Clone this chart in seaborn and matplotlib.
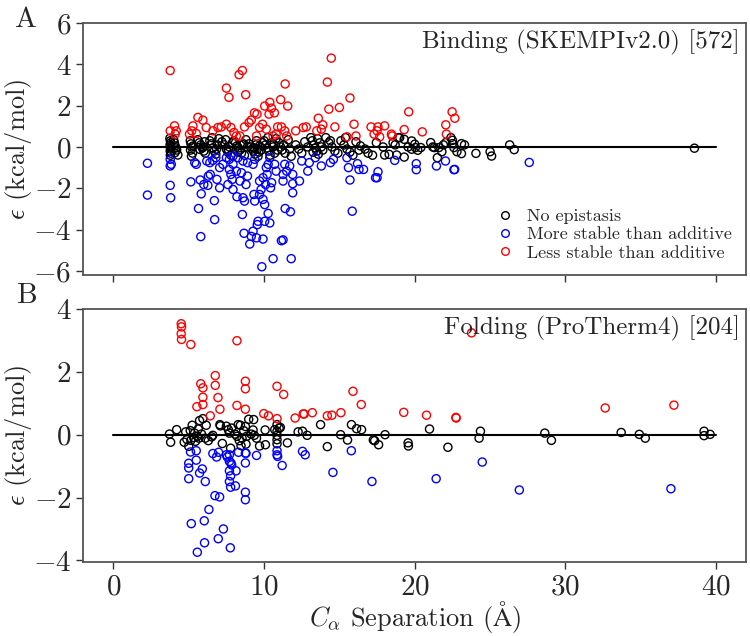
import numpy as np
import pandas as pd
import matplotlib
matplotlib.use("Agg")
import matplotlib.pyplot as plt
import seaborn as sns
from matplotlib.lines import Line2D

# ---- Binding (SKEMPIv2.0), panel A ----
a_none_x = [3.75, 3.78, 3.8, 3.76, 3.82, 3.79, 3.77, 3.81, 3.78, 4.0, 4.05, 4.1, 4.15, 4.2, 4.08, 4.28,
            5.1, 5.15, 5.2, 5.12, 5.25, 5.18, 5.3, 5.6, 5.7, 5.8, 5.9, 6.0, 6.1, 5.75, 5.95, 6.05,
            6.4, 6.5, 6.6, 6.7, 6.8, 6.9, 7.0, 6.55, 6.85,
            7.2, 7.35, 7.5, 7.6, 7.7, 7.8, 7.9, 7.45, 7.65,
            8.0, 8.1, 8.2, 8.3, 8.4, 8.5, 8.6, 8.7, 8.8, 8.9, 8.25, 8.65,
            9.0, 9.1, 9.2, 9.3, 9.4, 9.5, 9.6, 9.7, 9.8, 9.9, 9.35, 9.55, 9.45, 9.65,
            10.0, 10.1, 10.2, 10.3, 10.4, 10.5, 10.6, 10.7, 10.8, 10.9, 10.25, 10.65,
            11.0, 11.1, 11.2, 11.4, 11.6, 11.8, 11.3, 11.7,
            12.1, 12.3, 12.5, 12.7, 12.9,
            13.1, 13.2, 13.3, 13.4, 13.5, 13.6, 13.7, 13.8, 13.9, 13.25, 13.55,
            14.1, 14.3, 14.5, 14.7, 14.9, 14.4,
            15.1, 15.3, 15.5, 15.7, 15.9, 15.4,
            16.1, 16.4, 16.7, 16.9, 17.2, 16.3,
            17.45, 17.9, 18.0, 18.3, 18.56, 18.7, 18.8, 18.9, 19.0, 19.3, 19.3, 19.56, 19.8, 19.8,
            20.0, 20.04, 20.2, 20.4, 21.06, 21.2, 21.3, 21.5, 21.6, 21.8, 21.9, 22.06, 22.4, 22.5,
            22.5, 22.6, 22.8, 23.1, 23.1, 23.3, 24.06, 25.0, 25.1, 26.3, 26.6, 38.56]
a_none_y = [0.42, 0.3, 0.2, 0.1, 0.0, -0.1, -0.2, -0.3, -0.4, 0.35, 0.2, 0.05, -0.05, -0.15, -0.28, -0.39,
            0.3, 0.15, 0.0, -0.15, -0.3, -0.45, 0.05, 0.35, 0.2, 0.1, -0.05, -0.2, -0.3, -0.12, 0.0, 0.25,
            0.3, 0.15, -0.05, -0.2, -0.35, 0.1, 0.4, 0.45, -0.1,
            0.25, 0.1, -0.1, -0.25, 0.0, -0.4, 0.2, 0.35, -0.15,
            0.3, 0.2, 0.05, -0.05, -0.15, -0.3, 0.1, -0.4, 0.35, 0.0, -0.25, 0.15,
            0.15, 0.0, -0.1, -0.2, -0.35, 0.3, -0.45, 0.05, -0.15, 0.2, -0.05, -0.1, 0.1, -0.25,
            0.3, 0.1, -0.05, -0.2, -0.4, 0.2, 0.0, -0.3, 0.4, -0.15, 0.45, 0.12,
            0.2, 0.0, -0.15, -0.3, 0.35, -0.45, 0.1, -0.1,
            0.1, -0.1, -0.3, 0.25, 0.0,
            0.45, 0.3, 0.1, -0.05, -0.2, -0.35, 0.2, 0.0, -0.15, -0.25, 0.4,
            0.45, 0.2, 0.0, -0.2, -0.3, 0.3,
            0.3, 0.1, -0.1, -0.25, -0.4, 0.45,
            0.25, 0.05, -0.1, -0.3, -0.4, -0.15,
            0.21, 0.0, -0.39, -0.36, 0.21, 0.1, -0.39, 0.45, 0.45, 0.37, -0.49, 0.0, -0.11, 0.29,
            0.13, -0.03, -0.16, -0.03, 0.21, 0.0, -0.03, -0.52, -0.03, -0.23, 0.1, 0.21, 0.45, 0.32,
            0.16, -0.03, -0.23, 0.16, -0.32, 0.1, -0.31, -0.23, -0.44, 0.1, -0.13, -0.06]

a_more_x = [2.26, 2.26, 3.77, 3.8, 3.77, 3.84, 3.77, 5.14, 5.65, 5.8, 5.76, 5.83, 6.0, 6.3, 6.43, 6.27,
            6.7, 6.72, 6.87, 7.05, 5.4, 5.5, 6.2, 6.4, 6.6, 7.05, 7.27, 7.5, 7.7, 7.7, 7.8, 7.89,
            7.6, 7.94, 7.94, 8.16, 8.2, 8.4, 8.5, 8.56, 8.6, 8.67, 8.7, 8.8, 8.9, 9.05, 9.15, 9.27,
            9.33, 9.38, 9.5, 9.55, 9.6, 9.7, 9.93, 9.85, 10.04, 10.04, 9.93, 9.8, 9.7, 9.93, 10.1,
            10.2, 10.15, 10.27, 10.38, 10.27, 10.38, 10.43, 10.5, 10.6, 10.7, 10.8, 11.15, 11.26,
            11.4, 11.75, 11.8, 11.9, 11.9, 11.26, 11.26, 11.5, 11.37, 11.7, 11.9, 12.35, 12.5,
            12.9, 13.0, 13.4, 13.8, 14.4, 14.6, 15.5, 15.6, 15.7, 15.85, 16.2, 16.3, 16.6, 17.4,
            8.27, 8.6, 8.9, 9.27, 9.38, 7.94, 6.8,
            17.56, 17.5, 18.67, 20.1, 20.1, 21.44, 22.04, 22.6, 22.65, 27.6]
a_more_y = [-0.79, -2.33, -1.86, -2.46, -0.6, -0.84, -0.92, -1.69, -2.98, -4.34, -1.6, -2.27, -1.82, -1.41, -1.33, -1.86,
            -2.6, -3.52, -1.57, -1.98, -0.76, -0.84, -0.68, -0.76, -0.65, -1.0, -0.84, -0.52, -0.6, -1.09, -1.33, -1.57,
            -1.82, -2.06, -0.84, -1.17, -2.41, -1.65, -1.25, -3.27, -2.46, -4.18, -2.62, -1.82, -1.41, -4.7, -4.33, -4.08,
            -2.3, -2.62, -4.4, -3.76, -3.6, -2.3, -4.46, -5.8, -3.6, -2.79, -2.54, -2.06, -1.65, -1.49, -1.82,
            -1.33, -1.0, -0.84, -0.52, -3.22, -3.68, -1.98, -1.73, -5.41, -0.84, -1.17, -4.54, -4.5,
            -2.98, -3.14, -5.41, -2.22, -1.78, -1.65, -1.33, -1.17, -0.84, -0.92, -1.33, -1.65, -0.68,
            -1.17, -0.76, -0.52, -0.92, -0.76, -0.6, -0.52, -1.0, -1.6, -3.11, -0.81, -1.09, -1.09, -1.49,
            -0.52, -0.68, -0.76, -0.84, -0.6, -0.44, -0.52,
            -1.2, -1.49, -0.65, -0.81, -1.1, -0.92, -0.68, -1.1, -1.09, -0.75]

a_less_x = [3.77, 7.5, 7.67, 8.34, 8.56, 8.78, 11.4, 11.57, 11.1, 10.04, 10.38, 10.49, 10.69, 9.36, 9.53, 10.33,
            14.46, 14.2, 14.3, 15.0, 15.7, 13.6, 15.97, 17.1, 16.1, 14.7, 13.9, 13.8, 13.5, 12.8, 12.6, 12.1,
            5.28, 5.61, 5.94, 6.16, 6.6, 6.94, 7.16, 7.5, 7.8, 8.0, 8.16, 8.7, 9.0, 9.15, 9.7, 9.9, 10.15,
            10.9, 11.15, 11.37, 11.5, 3.77, 4.06, 4.17, 4.1, 5.2, 5.05, 5.5, 8.4, 10.6, 9.5, 10.8, 15.5,
            17.3, 17.56, 17.5, 18.0, 17.67, 18.45, 18.5, 19.3, 19.6, 20.5, 22.06, 22.1, 22.48, 22.66]
a_less_y = [3.7, 2.85, 2.4, 3.5, 3.7, 2.53, 3.05, 1.98, 2.29, 1.98, 2.16, 1.88, 1.65, 1.65, 1.59, 1.59,
            4.3, 3.14, 1.83, 1.91, 2.37, 1.39, 1.1, 0.97, 0.53, 0.97, 1.07, 0.86, 0.78, 0.97, 0.94, 0.78,
            1.02, 1.43, 1.3, 0.94, 0.78, 0.94, 0.97, 1.1, 0.94, 0.7, 0.53, 0.97, 1.18, 1.3, 0.94, 1.1, 0.86,
            0.97, 0.97, 0.78, 0.53, 0.78, 1.02, 0.78, 0.62, 0.78, 0.62, 0.65, 0.53, 0.53, 0.53, 0.62, 0.49,
            0.62, 0.97, 0.78, 1.02, 0.49, 0.62, 0.53, 0.84, 1.7, 0.73, 1.07, 0.62, 1.7, 1.39]

# ---- Folding (ProTherm4), panel B ----
b_none_x = [3.72, 3.8, 4.2, 4.7, 4.8, 4.88, 5.0, 5.1, 5.14, 5.23, 5.32, 5.39, 5.45, 5.57, 5.63, 5.68,
            5.72, 5.85, 5.94, 6.1, 6.16, 6.3, 6.52, 6.6, 7.07, 7.1, 7.23, 7.5, 7.63, 7.7, 7.78, 7.85,
            8.07, 8.2, 8.28, 8.36, 8.43, 8.47, 8.54, 8.65, 8.76, 8.8, 8.85, 8.98, 9.14, 9.27, 9.31,
            9.35, 9.5, 9.7, 10.09, 10.07, 10.71, 10.86, 10.86, 10.86, 10.86, 10.86, 11.0, 11.08,
            11.55, 12.26, 12.55, 12.86, 13.75, 14.2, 15.08, 15.54, 15.8, 16.14, 16.47, 17.25,
            17.34, 17.6, 18.03, 19.56, 19.58, 20.98, 22.2, 24.27, 24.36, 28.63, 29.07, 33.7,
            34.9, 35.3, 39.2, 39.2, 39.6]
b_none_y = [0.02, -0.24, 0.16, -0.24, 0.09, -0.15, -0.37, 0.13, -0.18, 0.3, -0.09, 0.05, -0.21, -0.05, 0.18, -0.11,
            0.45, 0.02, 0.51, -0.11, 0.3, -0.19, -0.07, -0.02, 0.32, 0.28, -0.28, 0.27, 0.16, 0.05, -0.43, 0.21,
            0.02, -0.05, 0.32, -0.19, 0.3, -0.35, -0.11, 0.13, 0.26, -0.3, -0.05, 0.49, 0.02, 0.15, 0.48,
            -0.02, -0.11, -0.36, -0.32, 0.15, 0.16, 0.32, 0.11, -0.02, -0.16, -0.29, 0.21, 0.23,
            -0.26, 0.09, 0.11, -0.02, 0.32, -0.38, 0.0, -0.17, 0.32, 0.19, 0.16, -0.17,
            -0.19, -0.32, 0.0, -0.26, -0.36, 0.18, -0.4, -0.11, 0.11, 0.05, -0.18, 0.07,
            0.01, -0.11, 0.11, -0.03, 0.01]

b_more_x = [5.12, 5.5, 5.0, 5.0, 5.5, 5.0, 5.9, 5.72, 6.1, 5.17, 6.03, 6.34, 6.74, 7.05, 5.57, 6.05,
            6.96, 7.3, 7.76, 6.6, 6.85, 6.98, 7.5, 7.56, 7.7, 7.7, 7.8, 7.85, 7.7, 7.78, 7.7, 7.78,
            8.14, 8.1, 8.3, 8.76, 8.8, 8.76, 8.76, 8.76, 9.5, 10.86, 10.86, 10.9, 11.2, 12.55, 12.73,
            14.57, 15.79, 17.16, 24.48, 21.42, 26.94, 37.0]
b_more_y = [-0.55, -0.51, -0.91, -1.06, -0.81, -1.4, -1.09, -1.22, -1.49, -2.83, -2.74, -2.38, -1.94, -1.98, -3.74, -3.44,
            -3.31, -3.0, -3.6, -0.6, -0.71, -0.56, -0.64, -0.71, -0.64, -0.85, -0.9, -0.96, -1.15, -1.31, -1.49, -1.67,
            -1.15, -1.63, -0.56, -0.59, -0.59, -0.9, -1.83, -2.07, -0.66, -0.51, -0.64, -0.69, -0.98, -0.53, -0.64,
            -1.2, -0.51, -1.49, -0.87, -1.4, -1.76, -1.72]

b_less_x = [4.5, 4.52, 4.5, 4.52, 5.14, 8.2, 6.76, 5.8, 5.94, 5.94, 5.94, 5.54, 6.76, 6.94, 7.07, 6.43,
            8.76, 8.76, 8.76, 8.2, 9.98, 10.29, 10.86, 11.3, 10.86, 12.06, 12.6, 12.66, 13.2, 14.2,
            14.5, 15.1, 15.9, 16.45, 23.77, 19.27, 20.78, 22.73, 22.75, 32.64, 37.2]
b_less_y = [3.53, 3.43, 3.21, 3.03, 2.87, 2.99, 1.88, 1.62, 1.49, 1.19, 0.96, 0.89, 1.57, 1.18, 0.81, 0.6,
            1.7, 1.46, 0.81, 0.93, 0.67, 0.6, 1.54, 1.28, 0.51, 0.53, 0.66, 0.66, 0.7, 0.6,
            0.62, 0.7, 1.38, 0.96, 3.24, 0.71, 0.62, 0.55, 0.53, 0.85, 0.94]

labels = ["No epistasis", "More stable than additive", "Less stable than additive"]
colors = ["black", "blue", "red"]


def make_df(nx, ny, mx, my, lx, ly):
    return pd.concat([
        pd.DataFrame({"sep": nx, "eps": ny, "kind": labels[0]}),
        pd.DataFrame({"sep": mx, "eps": my, "kind": labels[1]}),
        pd.DataFrame({"sep": lx, "eps": ly, "kind": labels[2]}),
    ], ignore_index=True)


dfA = make_df(a_none_x, a_none_y, a_more_x, a_more_y, a_less_x, a_less_y)
dfB = make_df(b_none_x, b_none_y, b_more_x, b_more_y, b_less_x, b_less_y)

sns.set_style("white")
plt.rcParams["font.family"] = ["cmr10", "DejaVu Serif"]
plt.rcParams["mathtext.fontset"] = "cm"
plt.rcParams["axes.formatter.use_mathtext"] = True

fig = plt.figure(figsize=(7.5, 6.36), dpi=100)
axA = fig.add_axes([0.111, 0.5676, 0.884, 0.3962])
axB = fig.add_axes([0.111, 0.1164, 0.884, 0.3978], sharex=axA)

for ax, df in [(axA, dfA), (axB, dfB)]:
    ax.plot([0, 40], [0, 0], color="black", lw=1.5, zorder=1)
    sns.scatterplot(data=df, x="sep", y="eps", hue="kind", hue_order=labels,
                    palette=colors, s=34, linewidth=1.0, legend=False, ax=ax, zorder=2)
    coll = ax.collections[-1]
    coll.set_edgecolors(coll.get_facecolors())
    coll.set_facecolors("none")
    for sp in ax.spines.values():
        sp.set_color("#555555")
        sp.set_linewidth(1.3)
    ax.tick_params(axis="both", labelsize=21, direction="out", length=5, width=1,
                   left=True, bottom=True, color="#333333")
    ax.set_ylabel(r"$\epsilon$ (kcal/mol)", fontsize=19)
    ax.yaxis.set_label_coords(-0.075, 0.5)
    ax.set_xlabel("")

axA.set_xlim(-2, 42)
axA.set_ylim(-6.2, 6.0)
axA.set_yticks([-6, -4, -2, 0, 2, 4, 6])
axA.set_xticks([0, 10, 20, 30, 40])
axA.tick_params(labelbottom=False)
axB.set_ylim(-4.05, 4.0)
axB.set_yticks([-4, -2, 0, 2, 4])
axB.set_xlabel(r"$C_\alpha$ Separation ($\mathrm{\AA}$)", fontsize=19, labelpad=-1)

axA.text(0.99, 0.975, "Binding (SKEMPIv2.0) [572]", transform=axA.transAxes,
         ha="right", va="top", fontsize=18)
axB.text(0.99, 0.975, "Folding (ProTherm4) [204]", transform=axB.transAxes,
         ha="right", va="top", fontsize=18)

handles = [Line2D([], [], marker="o", ls="none", mfc="none", mec=c, ms=5.5, mew=1.0)
           for c in colors]
axA.legend(handles, labels, loc="lower right", frameon=False, fontsize=13,
           handletextpad=0.6, labelspacing=0.15, borderaxespad=0.4, handlelength=1.2)

fig.text(0.02, 0.99, "A", fontsize=21, va="top")
fig.text(0.022, 0.555, "B", fontsize=21, va="top")

fig.savefig("out.png", dpi=100)
